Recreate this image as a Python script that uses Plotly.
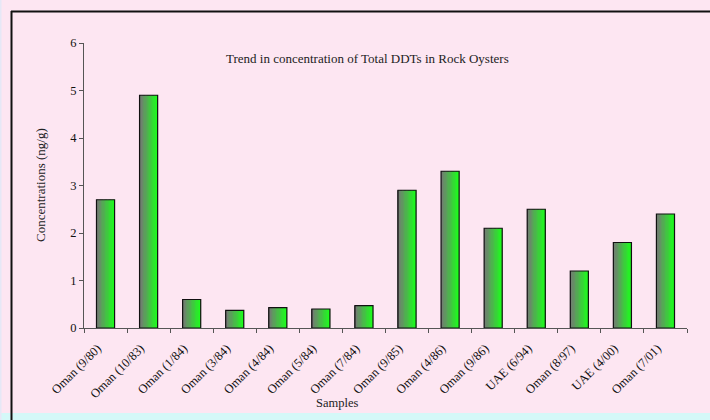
import plotly.graph_objects as go

categories = ["Oman (9/80)", "Oman (10/83)", "Oman (1/84)", "Oman (3/84)", "Oman (4/84)",
              "Oman (5/84)", "Oman (7/84)", "Oman (9/85)", "Oman (4/86)", "Oman (9/86)",
              "UAE (6/94)", "Oman (8/97)", "UAE (4/00)", "Oman (7/01)"]
values = [2.7, 4.9, 0.6, 0.37, 0.43, 0.4, 0.47, 2.9, 3.3, 2.1, 2.5, 1.2, 1.8, 2.4]
y_ticks = [0, 1, 2, 3, 4, 5, 6]

title_text = "Trend in concentration of Total DDTs in Rock Oysters"
x_title = "Samples"
y_title = "Concentrations (ng/g)"

W, H = 710, 420
ML, MR, MT, MB = 84, 23, 43, 92
PW, PH = W - ML - MR, H - MT - MB

def px_x(p):
    return (p - ML) / PW

def px_y(p):
    return (H - MB - p) / PH

FONT = "Liberation Serif, Times New Roman, serif"
bar_w = 0.42
N = 14
c0 = (118, 118, 118)
c1 = (30, 250, 30)

fig = go.Figure()
for k in range(N):
    t = k / (N - 1)
    col = "rgb(%d,%d,%d)" % tuple(round(a + (b - a) * t) for a, b in zip(c0, c1))
    fig.add_trace(go.Bar(
        x=categories, y=values, width=bar_w / N + 0.004,
        offset=-bar_w / 2 + k * bar_w / N,
        marker=dict(color=col, line=dict(width=0)),
        hoverinfo="skip", showlegend=False))
fig.add_trace(go.Bar(
    x=categories, y=values, width=bar_w, offset=-bar_w / 2,
    marker=dict(color="rgba(0,0,0,0)", line=dict(color="#111", width=1.2)),
    showlegend=False))

fig.update_layout(
    width=W, height=H, barmode="overlay",
    margin=dict(l=ML, r=MR, t=MT, b=MB, pad=0),
    paper_bgcolor="#fde6f2", plot_bgcolor="#fde6f2",
    font=dict(family=FONT, size=13, color="#111"),
    xaxis=dict(type="category", showline=True, linecolor="#555", linewidth=1.2,
               ticks="outside", ticklen=4, tickcolor="#555", tickson="boundaries",
               tickangle=-45, showgrid=False, ticklabelstandoff=7, ticklabelshift=-8,
               tickfont=dict(family=FONT, size=12.5)),
    yaxis=dict(range=[0, 6], tickvals=y_ticks, showline=True, linecolor="#555",
               linewidth=1.2, ticks="outside", ticklen=4, tickcolor="#555",
               showgrid=False, zeroline=False, tickfont=dict(family=FONT, size=12.5)),
    annotations=[
        dict(text=title_text, x=px_x(367), y=px_y(58), xref="paper", yref="paper",
             xanchor="center", yanchor="middle",
             showarrow=False, font=dict(family=FONT, size=13, color="#222")),
        dict(text=x_title, x=px_x(337), y=px_y(403), xref="paper", yref="paper",
             xanchor="center", yanchor="middle",
             showarrow=False, font=dict(family=FONT, size=12.5, color="#222")),
        dict(text=y_title, x=px_x(40), y=px_y(185), xref="paper", yref="paper",
             xanchor="center", yanchor="middle",
             showarrow=False, textangle=-90, font=dict(family=FONT, size=13, color="#222")),
    ],
    shapes=[
        dict(type="rect", xref="paper", yref="paper", x0=px_x(0), x1=px_x(W),
             y0=px_y(413), y1=px_y(H), fillcolor="#d4f8f8", line=dict(width=0), layer="below"),
        dict(type="rect", xref="paper", yref="paper", x0=px_x(0), x1=px_x(1.5),
             y0=px_y(0), y1=px_y(H), fillcolor="#e6e8f6", line=dict(width=0), layer="below"),
        dict(type="line", xref="paper", yref="paper", x0=px_x(11), x1=px_x(W),
             y0=px_y(11.5), y1=px_y(11.5), line=dict(color="#111", width=2)),
        dict(type="line", xref="paper", yref="paper", x0=px_x(11.5), x1=px_x(11.5),
             y0=px_y(11), y1=px_y(H), line=dict(color="#111", width=2)),
    ],
)

fig.write_html("out.html")
